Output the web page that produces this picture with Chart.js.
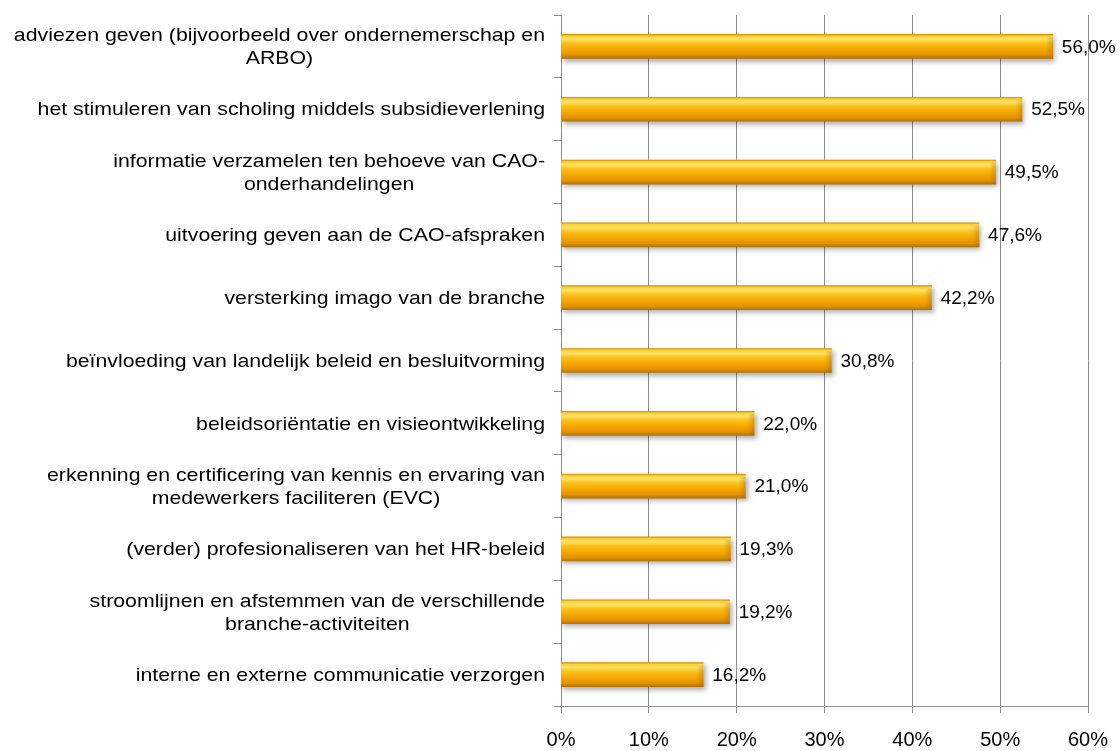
<!DOCTYPE html>
<html>
<head>
<meta charset="utf-8">
<script src="https://cdn.jsdelivr.net/npm/chart.js@4"></script>
<style>
    html, body { margin: 0; padding: 0; background: #fff; }
    #wrap { width: 1120px; height: 751px; }
</style>
</head>
<body>
<div id="wrap"><canvas id="taskChart"></canvas></div>
<script>
// categories, top to bottom (each entry = wrapped lines)
const categories = [
    ['adviezen geven (bijvoorbeeld over ondernemerschap en', 'ARBO)'],
    ['het stimuleren van scholing middels subsidieverlening'],
    ['informatie verzamelen ten behoeve van CAO-', 'onderhandelingen'],
    ['uitvoering geven aan de CAO-afspraken'],
    ['versterking imago van de branche'],
    ['beïnvloeding van landelijk beleid en besluitvorming'],
    ['beleidsoriëntatie en visieontwikkeling'],
    ['erkenning en certificering van kennis en ervaring van', 'medewerkers faciliteren (EVC)'],
    ['(verder) profesionaliseren van het HR-beleid'],
    ['stroomlijnen en afstemmen van de verschillende', 'branche-activiteiten'],
    ['interne en externe communicatie verzorgen']
];
const percentages = [56.0, 52.5, 49.5, 47.6, 42.2, 30.8, 22.0, 21.0, 19.3, 19.2, 16.2];
const axisTicks = [0, 10, 20, 30, 40, 50, 60];

const FONT = '"Liberation Sans", Arial, sans-serif';
const GRID = '#8c8c8c';
const BAR_H = 24;
const LABEL_STRETCH = 1.12;   // category text is set slightly wide

function fmt(v) {
    return v.toFixed(1).replace('.', ',') + '%';
}

// vertical gold gradient for each bar, built around its own centre line
function barFill(context) {
    const chart = context.chart;
    const yScale = chart.scales.y;
    if (!chart.chartArea || !yScale || context.dataIndex === undefined) return '#f6a800';
    const c = yScale.getPixelForValue(context.dataIndex);
    const g = chart.ctx.createLinearGradient(0, c - BAR_H / 2, 0, c + BAR_H / 2);
    g.addColorStop(0, '#d89400');
    g.addColorStop(0.07, '#fbcf35');
    g.addColorStop(0.2, '#ffe46a');
    g.addColorStop(0.36, '#fcc21e');
    g.addColorStop(0.62, '#f5a800');
    g.addColorStop(0.86, '#e39200');
    g.addColorStop(1, '#b37408');
    return g;
}

const shadowPlugin = {
    id: 'barShadow',
    beforeDatasetsDraw(chart) {
        const ctx = chart.ctx;
        ctx.save();
        ctx.shadowColor = 'rgba(0, 0, 0, 0.32)';
        ctx.shadowBlur = 5;
        ctx.shadowOffsetX = 2;
        ctx.shadowOffsetY = 3;
    },
    afterDatasetsDraw(chart) {
        const ctx = chart.ctx;
        ctx.restore();

        // bevelled right end + value labels
        const meta = chart.getDatasetMeta(0);
        ctx.save();
        meta.data.forEach((bar, i) => {
            const top = bar.y - BAR_H / 2;
            const g = ctx.createLinearGradient(bar.x - 7, 0, bar.x, 0);
            g.addColorStop(0, 'rgba(160, 95, 0, 0)');
            g.addColorStop(1, 'rgba(160, 95, 0, 0.35)');
            ctx.fillStyle = g;
            ctx.fillRect(bar.x - 7, top + 3, 7, BAR_H - 3);

            ctx.fillStyle = '#000';
            ctx.font = '19px ' + FONT;
            ctx.textAlign = 'left';
            ctx.textBaseline = 'middle';
            ctx.fillText(fmt(percentages[i]), bar.x + 9, bar.y + 1);
        });
        ctx.restore();
    }
};

// category labels: block right-aligned to the axis, lines centred inside it
const categoryLabels = {
    id: 'categoryLabels',
    afterDraw(chart) {
        const ctx = chart.ctx;
        const yScale = chart.scales.y;
        const right = chart.chartArea.left - 16;
        const lineH = 23;
        ctx.save();
        ctx.font = '19px ' + FONT;
        ctx.fillStyle = '#000';
        ctx.textAlign = 'center';
        ctx.textBaseline = 'middle';
        categories.forEach((lines, i) => {
            const cy = yScale.getPixelForTick(i);
            const widest = Math.max(...lines.map(l => ctx.measureText(l).width)) * LABEL_STRETCH;
            const cx = right - widest / 2;
            const y0 = cy - (lines.length - 1) * lineH / 2;
            lines.forEach((l, j) => {
                ctx.save();
                ctx.translate(cx, y0 + j * lineH + 1);
                ctx.scale(LABEL_STRETCH, 1);
                ctx.fillText(l, 0, 0);
                ctx.restore();
            });
        });
        ctx.restore();
    }
};

const ctx = document.getElementById('taskChart').getContext('2d');
new Chart(ctx, {
    type: 'bar',
    data: {
        labels: categories,
        datasets: [{
            data: percentages,
            backgroundColor: barFill,
            borderWidth: 0,
            barThickness: BAR_H
        }]
    },
    options: {
        indexAxis: 'y',
        responsive: true,
        maintainAspectRatio: false,
        animation: false,
        layout: { padding: { top: 15, right: 32, left: 0, bottom: 0 } },
        plugins: {
            legend: { display: false },
            tooltip: { enabled: false }
        },
        scales: {
            x: {
                min: 0,
                max: 60,
                afterBuildTicks(scale) {
                    scale.ticks = axisTicks.map(v => ({ value: v }));
                },
                afterFit(scale) {
                    scale.height = 45;
                    scale.paddingLeft = 0;
                    scale.paddingRight = 0;
                },
                grid: { color: GRID, lineWidth: 1, tickLength: 7 },
                border: { color: GRID },
                ticks: {
                    padding: 15,
                    color: '#000',
                    font: { family: FONT, size: 20 },
                    callback: v => v + '%'
                }
            },
            y: {
                afterFit(scale) { scale.width = 561; },
                grid: { drawOnChartArea: false, color: GRID, tickLength: 7, offset: true },
                border: { color: GRID },
                ticks: { display: false }
            }
        }
    },
    plugins: [shadowPlugin, categoryLabels]
});
</script>
</body>
</html>
